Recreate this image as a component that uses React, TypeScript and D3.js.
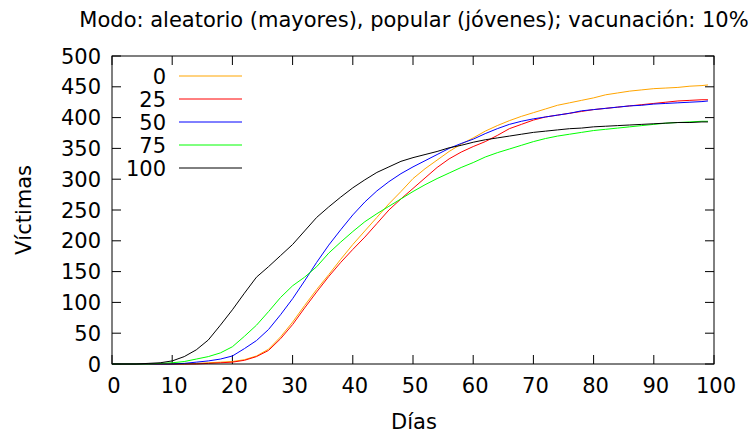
import React from "react";
import * as d3 from "d3";

const days = [0,2,4,6,8,10,12,14,16,18,20,22,24,26,28,30,32,34,36,38,40,42,44,46,48,50,52,54,56,58,60,62,64,66,68,70,72,74,76,78,80,82,84,86,88,90,92,94,96,98,99];

const s0 = [0,0,0,0,0,0,0,1,2,3,4,7,13,24,44,68,95,121,145,170,194,216,238,260,280,301,317,331,345,357,367,378,387,395,402,408,414,420,424,428,432,437,440,443,445,447,448,449,451,452,453];
const s25 = [0,0,0,0,0,0,0,0,1,2,3,6,12,22,41,64,91,117,142,165,186,206,228,250,268,285,302,319,333,344,353,361,371,382,389,396,401,404,407,410,413,415,417,419,421,423,425,427,428,429,429];
const s50 = [0,0,0,0,0,0,1,3,5,8,13,25,38,56,80,106,135,165,193,218,242,263,281,296,309,320,330,340,350,358,365,374,382,389,394,398,401,404,407,411,413,415,417,419,420,422,423,424,425,426,427];
const s75 = [0,0,0,0,1,2,4,8,12,18,28,45,63,85,108,127,141,158,180,198,215,231,244,256,268,280,291,301,310,319,327,336,343,349,355,361,366,370,373,376,379,381,383,385,387,389,391,392,393,394,394];
const s100 = [0,0,0,1,2,5,12,23,39,63,88,115,141,158,176,194,216,238,255,271,286,299,311,320,329,335,340,345,351,355,360,364,367,370,373,376,378,380,382,383,385,386,387,388,389,390,391,392,392,393,393];

const seriesNames = ["0", "25", "50", "75", "100"];
const seriesData = [s0, s25, s50, s75, s100];
const colors = ["#ffa500", "#ff0000", "#0000ff", "#00ff00", "#000000"];

const xTicks = [0,10,20,30,40,50,60,70,80,90,100];
const yTicks = [0,50,100,150,200,250,300,350,400,450,500];

const title = "Modo: aleatorio (mayores), popular (jóvenes); vacunación: 10%";
const xLabel = "Días";
const yLabel = "Víctimas";

export default function App() {
  const W = 751, H = 435;
  const left = 112, right = 714, top = 56, bottom = 364;
  const x = d3.scaleLinear().domain([0, 100]).range([left, right]);
  const y = d3.scaleLinear().domain([0, 500]).range([bottom, top]);
  const line = d3.line<[number, number]>().x(d => x(d[0])).y(d => y(d[1]));
  const font = "DejaVu Sans";
  const fs = 21;
  const tl = 9;
  return (
    <svg width={W} height={H} style={{ position: "absolute", left: 0, top: 0, background: "#fff" }} fontFamily={font}>
      <rect width={W} height={H} fill="#fff" />
      <text x={414} y={27} fontSize={fs} textAnchor="middle">{title}</text>
      {yTicks.map(t => (
        <g key={"y" + t}>
          <line x1={left} x2={left + tl} y1={y(t)} y2={y(t)} stroke="#000" strokeWidth={1} />
          <line x1={right} x2={right - tl} y1={y(t)} y2={y(t)} stroke="#000" strokeWidth={1} />
          <text x={101} y={y(t) + 7.5} fontSize={fs} textAnchor="end">{t}</text>
        </g>
      ))}
      {xTicks.map(t => (
        <g key={"x" + t}>
          <line x1={x(t)} x2={x(t)} y1={bottom} y2={bottom - tl} stroke="#000" strokeWidth={1} />
          <line x1={x(t)} x2={x(t)} y1={top} y2={top + tl} stroke="#000" strokeWidth={1} />
          <text x={x(t) + 2} y={393} fontSize={fs} textAnchor="middle">{t}</text>
        </g>
      ))}
      {seriesData.map((s, i) => (
        <path key={"s" + i} d={line(days.map((d, j) => [d, s[j]]) as [number, number][]) || ""} fill="none" stroke={colors[i]} strokeWidth={1} />
      ))}
      <rect x={left} y={top} width={right - left} height={bottom - top} fill="none" stroke="#000" strokeWidth={1} />
      {seriesNames.map((n, i) => (
        <g key={"l" + i}>
          <text x={166} y={76 + i * 23 + 7.5} fontSize={fs} textAnchor="end">{n}</text>
          <line x1={179} x2={242} y1={76 + i * 23} y2={76 + i * 23} stroke={colors[i]} strokeWidth={1} />
        </g>
      ))}
      <text x={414} y={429} fontSize={fs} textAnchor="middle">{xLabel}</text>
      <text transform={`translate(31,210) rotate(-90)`} fontSize={fs} textAnchor="middle">{yLabel}</text>
    </svg>
  );
}
